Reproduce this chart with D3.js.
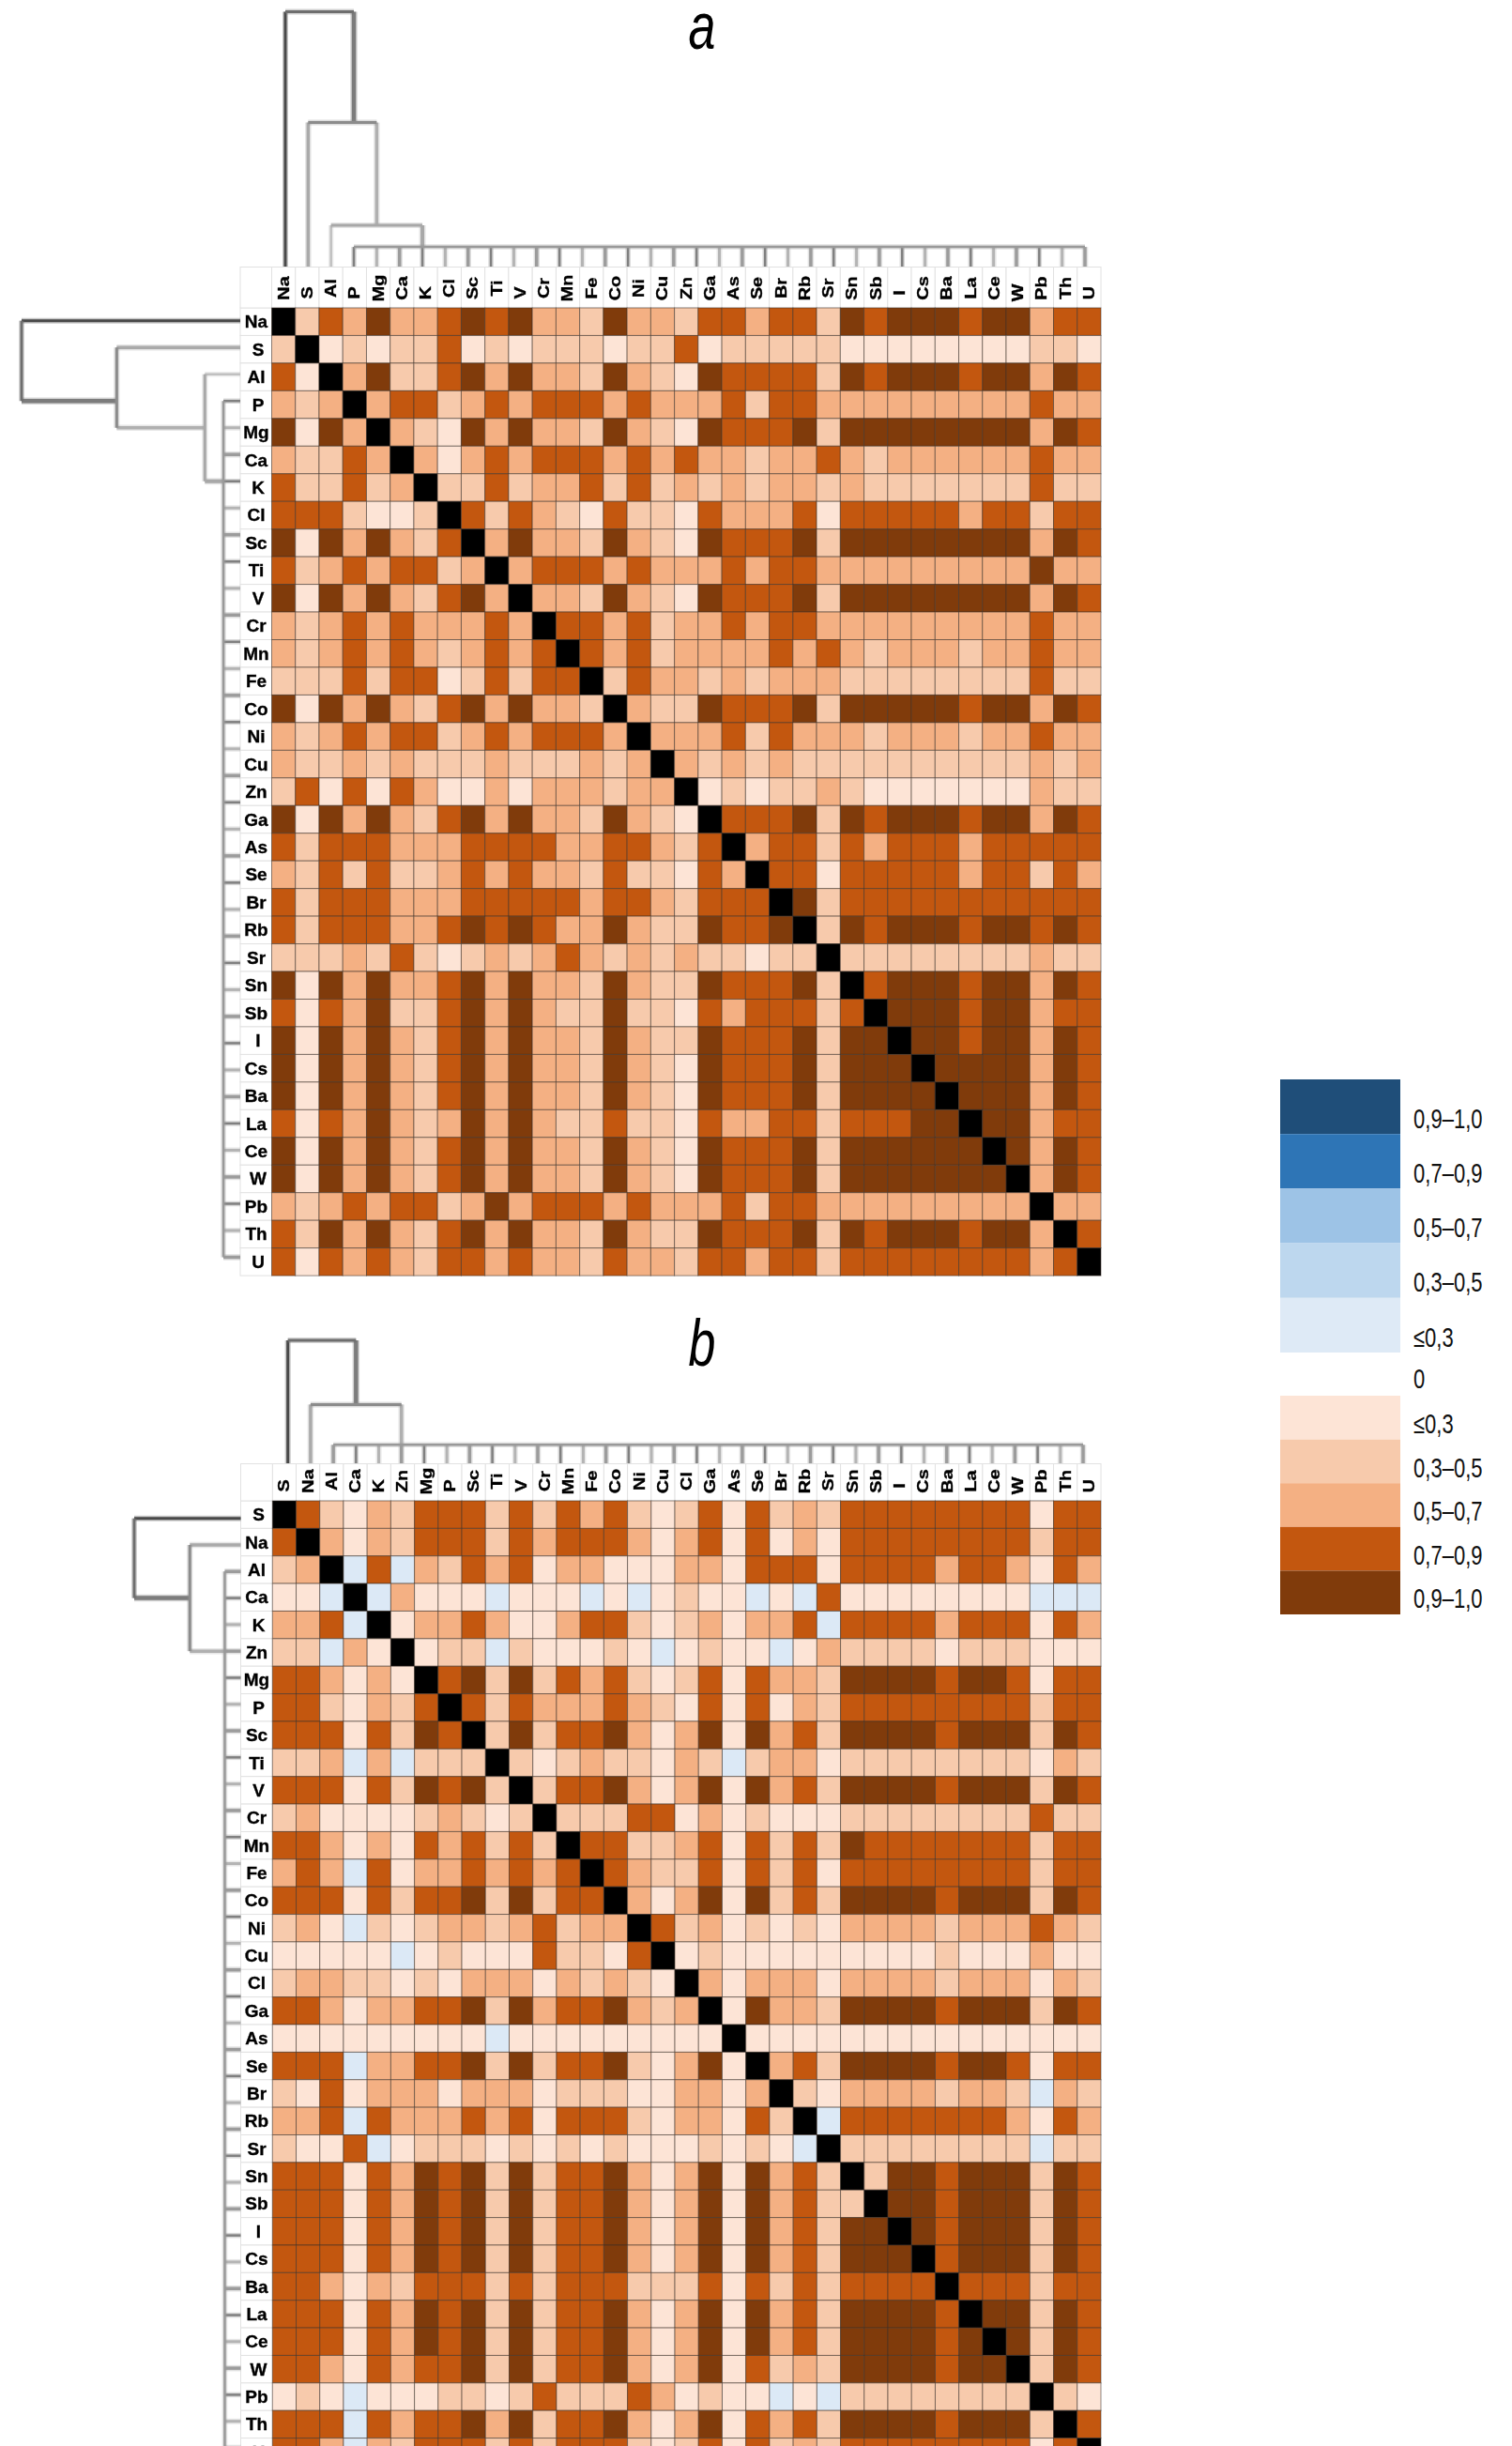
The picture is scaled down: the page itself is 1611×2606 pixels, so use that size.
<!DOCTYPE html>
<html><head><meta charset="utf-8">
<script src="https://cdn.jsdelivr.net/npm/d3@7/dist/d3.min.js"></script>
<style>html,body{margin:0;padding:0;background:#fff;overflow:hidden}svg{display:block}text{font-family:"Liberation Sans",Arial,sans-serif}</style>
</head><body><svg id="c" width="1611" height="2606"></svg>
<script>
const elementsA = ["Na","S","Al","P","Mg","Ca","K","Cl","Sc","Ti","V","Cr","Mn","Fe","Co","Ni","Cu","Zn","Ga","As","Se","Br","Rb","Sr","Sn","Sb","I","Cs","Ba","La","Ce","W","Pb","Th","U"];
const elementsB = ["S","Na","Al","Ca","K","Zn","Mg","P","Sc","Ti","V","Cr","Mn","Fe","Co","Ni","Cu","Cl","Ga","As","Se","Br","Rb","Sr","Sn","Sb","I","Cs","Ba","La","Ce","W","Pb","Th","U"];
// correlation class per cell: 1..5 = positive bins, b = weak negative, X = diagonal
const corrA = [
"X2435334545332533 2443442 54555455 344",
"2X121224121222122 4122222 11111111 221",
"41X35224535332532 1544442 54555455 354",
"323X3442343444343 3342443 33333333 433",
"5153X321535332532 1544452 55555555 354",
"32243X31343444343 4332334 32333333 433",
"422423X2242334242 3232332 32222222 422",
"4442112X424321422 1433341 44444344 244",
"51535324X35332532 1544452 55555555 354",
"423434423X3444343 3343443 33333333 533",
"5153532453X332532 1544452 55555555 354",
"32343433343X44342 3343443 33333333 433",
"323434323434X4342 3333434 32333233 433",
"2224244124244X243 3232333 22222222 422",
"51535324535332X32 2544452 55555455 354",
"323434423434443X3 3342433 32333233 433",
"3223232223222323X 3232322 22222222 323",
"24141431131333233 X121223 21111111 322",
"51535324535332532 1X44452 54555455 354",
"42444333444433443 24X3442 43444344 444",
"32424223434332422 143X441 44444344 243",
"42444333444443443 2444X52 44444444 444",
"42444334545433532 25445X2 54555455 454",
"22232421232343232 322122X 22222222 322",
"51535334535332532 2544452 X4555455 354",
"41435224535322522 1434442 4X555455 344",
"51535324535332532 2544452 55X55455 354",
"51535324535332532 1544452 555X5555 354",
"51535324535332532 1544452 5555X555 354",
"41435323535322422 1433442 44455X55 344",
"51535324535332532 1544452 555555X5 354",
"51535324535332532 1544452 5555555X 354",
"32343442353444343 3342443 33333333 X33",
"42535324535332532 2544452 54555455 3X4",
"41434324434332433 2443442 44444444 34X"
];
const corrB = [
"X4213244424243421 2414232 44444444 144",
"4X313244424344431 3414131 44444444 244",
"23Xb4b32434133111 3314441 44443443 143",
"11bXb3111b111b1b1 211b1b4 11111111 bbb",
"334bX133431134421 231334b 44443444 143",
"22b31X122b211121b 1211b13 22221222 111",
"443131X4525243421 2414332 55554554 144",
"4421324X424333432 1414132 44444444 244",
"44414254X25244531 3515342 55554555 254",
"223b3b222X2123221 32b2331 22222222 132",
"4441425452X244531 3515342 55554555 254",
"23111123212X22244 1312111 22222222 422",
"443131434242X4422 3414242 54444444 244",
"343b413343434X432 2414241 44444444 244",
"44414244525244X31 3515242 55554555 254",
"231b21233234233X4 2312121 33332333 432",
"11111b1211142214X 1211111 11112111 311",
"23322121333132321 X313331 33332333 132",
"44313344525344532 3X15332 55554555 254",
"111111111b1111111 11X1111 11111111 111",
"444b3344525244521 351X342 55554554 144",
"21413331333122211 3313X21 33332332 b32",
"334b4333434144421 33142Xb 44444443 143",
"2114b122212121211 12121bX 22222222 b22",
"44414354525244531 3515342 X2554555 254",
"44414354525244531 3515342 2X554555 254",
"44414354525244531 3515342 55X54555 254",
"44414354525244531 3515342 555X4555 254",
"44313244424244422 2414242 4444X444 244",
"44414354525244531 3515342 55554X55 254",
"44414354525244531 3515342 555545X5 254",
"44314344525244531 3514232 5555455X 254",
"121b1112212422243 1211b1b 22222222 X21",
"444b4344535244531 3514342 55554555 2X4",
"443b3244424244421 2414232 44444444 14X"
];
// dendrogram: linkage level of each merge, and the leaves it spans (the last merge is a polytomy)
const levelsA = [1, .565, .162, .077];
const fromA = [0, 1, 2, 3];
const toA = [3, 4, 6, 35];
const levelsB = [1, .478, .15];
const fromB = [0, 1, 2];
const toB = [3, 5, 35];
// legend
const legendBlue = ["0,9–1,0","0,7–0,9","0,5–0,7","0,3–0,5","≤0,3"];
const legendOrange = ["≤0,3","0,3–0,5","0,5–0,7","0,7–0,9","0,9–1,0"];
const blueColors = ["#1F4E79","#2E75B6","#9DC3E6","#BDD7EE","#DEEAF6"];
const orangeColors = ["#FDE4D6","#F7CAAC","#F4B083","#C3570F","#803B0B"];
const classKeys = ["b","1","2","3","4","5","X"];
const classColors = ["#DCE9F6","#FDE4D6","#F7CAAC","#F4B083","#C3570F","#803B0B","#000000"];

const color = d3.scaleOrdinal(classKeys, classColors);
const svg = d3.select("#c");
const defs = svg.append("defs");
defs.append("filter").attr("id","soft").attr("x","-5%").attr("y","-5%").attr("width","110%").attr("height","110%")
  .append("feGaussianBlur").attr("stdDeviation",.7);
defs.append("filter").attr("id","softText").append("feGaussianBlur").attr("stdDeviation",.35);

function matrix(cfg){
  const {names,rows,x0,x1,y0,rowH,headTop,labelLeft} = cfg;
  const x = d3.scaleBand().domain(names).range([x0,x1]);
  const y = d3.scaleBand().domain(names).range([y0,y0+rowH*names.length]);
  const g = svg.append("g");
  const cells = rows.flatMap((r,i)=>r.replace(/ /g,"").split("").map((v,j)=>({r:names[i],c:names[j],v})));
  g.append("g").selectAll("rect").data(names).join("rect")
    .attr("x",d=>x(d)).attr("y",headTop).attr("width",x.bandwidth()).attr("height",y0-headTop)
    .attr("fill","#fff").attr("stroke","#e2e2e2");
  g.append("g").selectAll("rect").data(names).join("rect")
    .attr("x",labelLeft).attr("y",d=>y(d)).attr("width",x0-labelLeft).attr("height",y.bandwidth())
    .attr("fill","#fff").attr("stroke","#e2e2e2");
  g.append("rect").attr("x",labelLeft).attr("y",headTop).attr("width",x0-labelLeft).attr("height",y0-headTop).attr("fill","#fff").attr("stroke","#e2e2e2");
  g.append("g").selectAll("rect").data(cells).join("rect")
    .attr("x",d=>x(d.c)).attr("y",d=>y(d.r)).attr("width",x.bandwidth()).attr("height",y.bandwidth())
    .attr("fill",d=>color(d.v)).attr("stroke","#3a3028").attr("stroke-opacity",.55).attr("stroke-width",1);
  const t = g.append("g").attr("filter","url(#softText)");
  t.append("g").selectAll("text").data(names).join("text")
    .attr("text-anchor","middle").attr("dominant-baseline","central")
    .attr("font-weight","700").attr("font-size",19).attr("fill","#000").attr("stroke","#000").attr("stroke-width",.35)
    .attr("transform",d=>`translate(${labelLeft+(d.length===1?19:17)},${y(d)+y.bandwidth()/2})`)
    .text(d=>d);
  t.append("g").selectAll("text").data(names).join("text")
    .attr("text-anchor","middle").attr("dominant-baseline","central")
    .attr("font-weight","700").attr("font-size",16.5).attr("fill","#000").attr("stroke","#000").attr("stroke-width",.35)
    .attr("transform",d=>`translate(${x(d)+x.bandwidth()/2},${y0-(d.length===1?16:21)}) rotate(-90) scale(1.2,1)`)
    .text(d=>d);
  return {x,y};
}

function stroke(g,p,core,w){
  g.append("path").attr("d",p).attr("fill","none").attr("stroke",core).attr("stroke-opacity",.3).attr("stroke-width",w+3);
  g.append("path").attr("d",p).attr("fill","none").attr("stroke",core).attr("stroke-width",w);
}
const seg = (a,b,c,d)=>`M${a},${b}L${c},${d}`;
const styles = [
 {bar:["#6e6e6e",3],from:["#4a4a4a",3],to:["#7c7c7c",4.5]},
 {bar:["#8c8c8c",3],from:["#aaa",3.5],to:["#b0b0b0",3.5]},
 {bar:["#a8a8a8",3],from:["#c0c0c0",2.5],to:["#a8a8a8",4]}
];
const tickStyle = [["#808080",2.5],["#b4b4b4",3],["#9c9c9c",3.5]];
function dendro(levels,from,to,leaf,dist,place){
  const g = svg.append("g").attr("filter","url(#soft)");
  const n = levels.length;
  levels.forEach((lv,i)=>{
    const st = styles[Math.min(i,2)];
    const a = leaf(from[i]), b = leaf(to[i]), h = dist(lv), base = dist(0);
    if(i===n-1){
      d3.range(from[i],to[i]+1).forEach(k=>{
        const [c,w]=tickStyle[k%3];
        stroke(g,place(seg(leaf(k),h,leaf(k),base)),c,w);
      });
      stroke(g,place(seg(a,h,b,h)),"#999",2.5);
    } else {
      stroke(g,place(seg(a,h,a,base)),st.from[0],st.from[1]);
      stroke(g,place(seg(b,h,b,dist(levels[i+1]))),st.to[0],st.to[1]);
      stroke(g,place(seg(a,h,b,h)),st.bar[0],st.bar[1]);
    }
  });
}
const swap = s=>s.replace(/M([-\d.]+),([-\d.]+)L([-\d.]+),([-\d.]+)/,"M$2,$1L$4,$3");

function panel(cfg){
  matrix(cfg);
  const xLeaf = d3.scaleLinear([0,35],cfg.xLeaves);
  const yLeaf = d3.scaleLinear([0,35],cfg.yLeaves);
  const dTop = d3.scaleLinear([0,1],cfg.topRange);
  const dLeft = d3.scaleLinear([0,1],cfg.leftRange);
  dendro(cfg.levels,cfg.from,cfg.to,xLeaf,dTop,s=>s);
  dendro(cfg.levels,cfg.from,cfg.to,yLeaf,dLeft,swap);
}
panel({names:elementsA,rows:corrA,x0:289.5,x1:1173,y0:328,rowH:29.46,headTop:284.5,labelLeft:256,
  levels:levelsA,from:fromA,to:toA,topRange:[284,12.5],leftRange:[256,23],xLeaves:[304,1156],yLeaves:[341.7,1339.5]});
panel({names:elementsB,rows:corrB,x0:290.3,x1:1173,y0:1599,rowH:29.37,headTop:1559.5,labelLeft:256.5,
  levels:levelsB,from:fromB,to:toB,topRange:[1559,1428],leftRange:[256.5,143],xLeaves:[306.7,1154],yLeaves:[1617.7,2608]});

// titles
const title=(t,x,y)=>svg.append("text").attr("text-anchor","middle").attr("font-style","italic")
  .attr("font-size",52).attr("fill","#000").attr("transform",`translate(${x},${y}) scale(1,1.35)`).text(t);
title("a",748,52);
title("b",748,1455);

// legend
const lg = svg.append("g");
const yBlue = d3.scaleBand().domain(legendBlue).range([1150,1441]);
const yOr = d3.scaleBand().domain(legendOrange).range([1487,1720]);
lg.selectAll(".bl").data(legendBlue).join("rect").attr("x",1364).attr("width",128)
  .attr("y",d=>yBlue(d)).attr("height",yBlue.bandwidth()).attr("fill",(d,i)=>blueColors[i]);
lg.selectAll(".or").data(legendOrange).join("rect").attr("x",1364).attr("width",128)
  .attr("y",d=>yOr(d)).attr("height",yOr.bandwidth()).attr("fill",(d,i)=>orangeColors[i]);
const legText=(t,y)=>lg.append("text").attr("dominant-baseline","central").attr("font-size",29).attr("fill","#111")
  .attr("transform",`translate(1506,${y}) scale(.76,1)`).text(t);
legendBlue.forEach(t=>legText(t,yBlue(t)+yBlue.bandwidth()/2+12.5));
legText("0",1469);
legendOrange.forEach(t=>legText(t,yOr(t)+yOr.bandwidth()/2+6.5));
</script></body></html>
